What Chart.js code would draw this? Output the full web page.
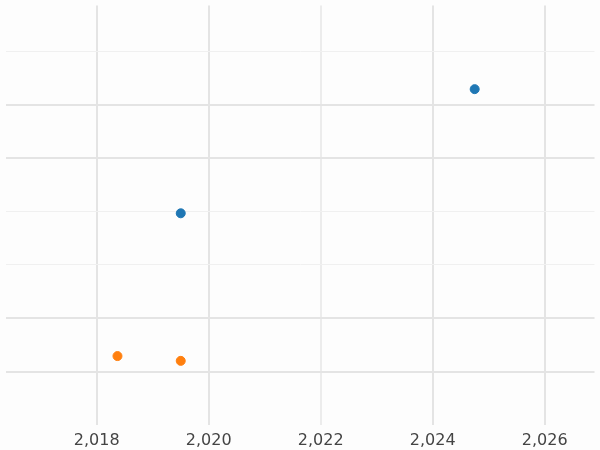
<!DOCTYPE html>
<html>
<head>
<script src="https://cdn.jsdelivr.net/npm/chart.js@4"></script>
<style>
  html, body { margin: 0; padding: 0; background: #fdfdfd; }
  #wrap { width: 600px; height: 450px; }
</style>
</head>
<body>
<div id="wrap"><canvas id="chart"></canvas></div>
<script>
const blueX = [2019.5, 2024.75];
const blueY = [2.97, 5.3];
const orangeX = [2018.37, 2019.5];
const orangeY = [0.29, 0.2];
const xTicks = [2018, 2020, 2022, 2024, 2026];

function pts(xs, ys) {
  return xs.map(function (x, i) { return { x: x, y: ys[i] }; });
}

const darkY = [0, 1, 4, 5];

new Chart(document.getElementById("chart"), {
  type: "scatter",
  data: {
    datasets: [
      { data: pts(blueX, blueY), backgroundColor: "#1f77b4", borderColor: "#1f77b4", pointRadius: 4.5 },
      { data: pts(orangeX, orangeY), backgroundColor: "#ff7f0e", borderColor: "#ff7f0e", pointRadius: 4.5 }
    ]
  },
  options: {
    responsive: true,
    maintainAspectRatio: false,
    animation: false,
    layout: { padding: { left: -6, right: -6, top: -6, bottom: -6 } },
    plugins: { legend: { display: false }, tooltip: { enabled: false } },
    scales: {
      x: {
        min: 2016.37, max: 2026.89,
        afterBuildTicks: function (axis) {
          axis.ticks = xTicks.map(function (v) { return { value: v }; });
        },
        grid: {
          color: function (c) { return c.tick && c.tick.value === 2022 ? "#ececec" : "#e4e4e4"; },
          lineWidth: 2,
          drawTicks: false
        },
        border: { display: false },
        ticks: {
          color: "#444",
          font: { family: "DejaVu Sans", size: 16 },
          padding: 6,
          maxRotation: 0,
          autoSkip: false
        }
      },
      y: {
        min: -1, max: 6.87,
        afterBuildTicks: function (axis) {
          const t = [];
          for (let y = 0; y <= 6; y++) t.push({ value: y });
          axis.ticks = t;
        },
        afterFit: function (axis) { axis.width = 0; },
        grid: {
          color: function (c) { return darkY.indexOf(c.tick && c.tick.value) >= 0 ? "#e4e4e4" : "#f0f0f0"; },
          lineWidth: function (c) { return darkY.indexOf(c.tick && c.tick.value) >= 0 ? 2 : 1; },
          drawTicks: false
        },
        border: { display: false },
        ticks: { display: false }
      }
    }
  }
});
</script>
</body>
</html>
